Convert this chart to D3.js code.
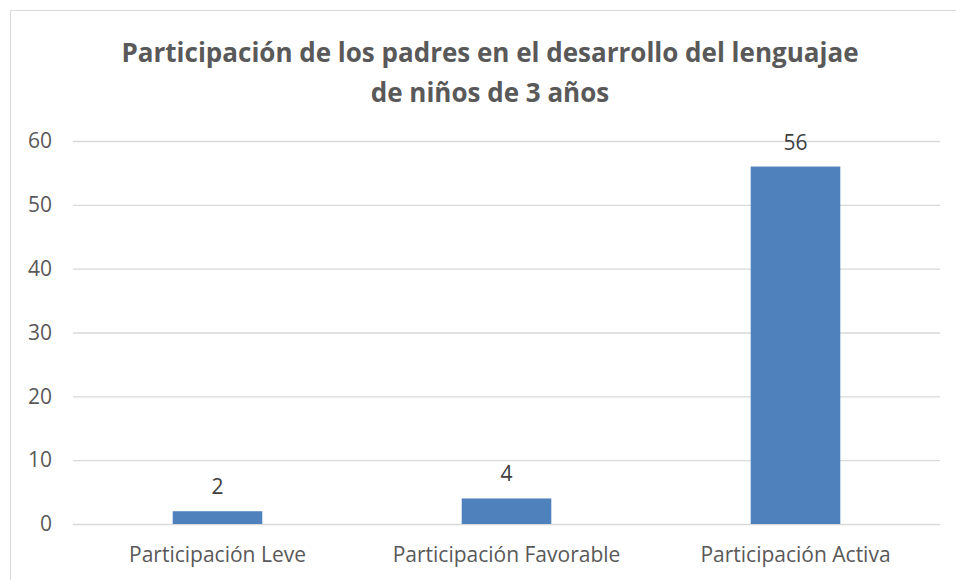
<!DOCTYPE html>
<html>
<head>
<meta charset="utf-8">
<script src="https://cdn.jsdelivr.net/npm/d3@7"></script>
<style>
  body { margin: 0; background: #fff; }
  svg { display: block; }
  svg text { font-family: "Open Sans", "Noto Sans", sans-serif; }
</style>
</head>
<body>
<div id="chart"></div>
<script>
const categories = ["Participación Leve", "Participación Favorable", "Participación Activa"];
const values = [2, 4, 56];
const yTicks = [0, 10, 20, 30, 40, 50, 60];
const titleLines = ["Participación de los padres en el desarrollo del lenguajae", "de niños de 3 años"];

const width = 956;
const height = 580;
const margin = { top: 141, right: 16, bottom: 56, left: 73 };
const innerW = width - margin.left - margin.right;
const innerH = height - margin.top - margin.bottom;
const textColor = "#595959";

const svg = d3.select("#chart")
  .append("svg")
  .attr("width", width)
  .attr("height", height);

// outer chart border
svg.append("rect")
  .attr("x", 10.5)
  .attr("y", 10.5)
  .attr("width", width)
  .attr("height", height)
  .attr("fill", "none")
  .attr("stroke", "#d9d9d9");

// title
svg.append("text")
  .attr("x", 490)
  .attr("y", 62)
  .attr("text-anchor", "middle")
  .attr("fill", textColor)
  .style("font-size", "26px")
  .style("font-weight", "bold")
  .selectAll("tspan")
  .data(titleLines)
  .join("tspan")
  .attr("x", 490)
  .attr("dy", (d, i) => i === 0 ? 0 : 40)
  .text(d => d);

const g = svg.append("g")
  .attr("transform", `translate(${margin.left},${margin.top})`);

const x = d3.scaleBand()
  .domain(categories)
  .range([0, innerW])
  .paddingInner(0.69)
  .paddingOuter(0.345);

const y = d3.scaleLinear()
  .domain([0, 60])
  .range([innerH, 0]);

// gridlines
g.append("g")
  .call(d3.axisLeft(y).tickValues(yTicks).tickSize(-innerW).tickFormat(""))
  .call(s => s.select(".domain").remove())
  .call(s => s.selectAll("line").attr("stroke", "#d9d9d9").attr("stroke-width", 1.3));

// y labels
g.append("g")
  .call(d3.axisLeft(y).tickValues(yTicks).tickSize(0).tickPadding(21))
  .attr("font-family", null)
  .attr("font-size", null)
  .call(s => s.select(".domain").remove())
  .call(s => s.selectAll("text").attr("fill", textColor).style("font-size", "21px"));

// x labels
g.append("g")
  .attr("transform", `translate(0,${innerH})`)
  .call(d3.axisBottom(x).tickSize(0).tickPadding(23))
  .attr("font-family", null)
  .attr("font-size", null)
  .call(s => s.select(".domain").remove())
  .call(s => s.selectAll("text").attr("fill", textColor).style("font-size", "21px"));

// bars
g.selectAll("rect.bar")
  .data(values)
  .join("rect")
  .attr("class", "bar")
  .attr("x", (d, i) => x(categories[i]))
  .attr("y", d => y(d))
  .attr("width", x.bandwidth())
  .attr("height", d => y(0) - y(d))
  .attr("fill", "#4f81bd");

// data labels
g.selectAll("text.val")
  .data(values)
  .join("text")
  .attr("class", "val")
  .attr("x", (d, i) => x(categories[i]) + x.bandwidth() / 2)
  .attr("y", d => y(d) - 17)
  .attr("text-anchor", "middle")
  .attr("fill", "#404040")
  .style("font-size", "21px")
  .text(d => d);
</script>
</body>
</html>
